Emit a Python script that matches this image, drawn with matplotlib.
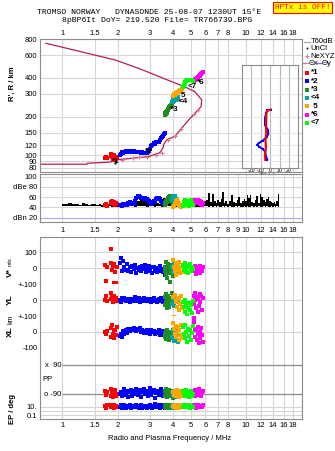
import matplotlib.pyplot as plt
from matplotlib.lines import Line2D
from matplotlib.ticker import NullLocator, NullFormatter

W, H = 335, 451
plt.rcParams['font.family'] = ['Liberation Sans', 'DejaVu Sans']
plt.rcParams['font.size'] = 5.5

# frequency scale shared by all panels
F_MIN, F_MAX = 0.756, 20.1
freq_ticks = [1, 1.5, 2, 3, 4, 5, 6, 7, 8, 10, 12, 14, 16, 18]
freq_labels = ['1', '1.5', '2', '3', '4', '5', '6', '7', '8', '10', '12', '14', '16', '18']
dbe_ticks = [1, 1.5, 2, 3, 4, 5, 6, 7, 8, 9, 10, 12, 14, 16, 18]
dbe_labels = ['1', '1.5', '2', '3', '4', '5', '6', '7', '8', '9', '10', '12', '14', '16', '18']
range_ticks = [80, 90, 100, 120, 150, 200, 300, 400, 600, 800]

title1 = 'TROMSO NORWAY   DYNASONDE 25-08-07 1230UT 15°E'
title2 = '8pBP6It DoY= 219.520 File= TR766739.BPG'

# electron density profile, plasma frequency (MHz) vs height (km)
prof_f = [0.815, 1.94, 2.65, 3.62, 4.66, 5.27, 5.74, 5.69, 5.27, 4.96, 4.47, 4.11, 3.70,
          3.55, 3.55, 3.40, 2.94, 2.39, 1.94, 1.86, 1.78, 1.37, 1.36, 0.756]
prof_h = [741, 550, 469, 392, 340, 312, 269, 239, 212, 194, 163, 141, 132,
          121, 116, 105, 98, 95, 92.3, 89.6, 88.5, 87, 85.5, 85.5]
nexyz_f = [2.11, 2.42, 2.62, 2.88, 3.24, 3.48, 3.78, 4.11, 4.43, 5.21, 5.50]
nexyz_h = [93, 96, 96.5, 98, 100, 105, 132, 141, 160, 210, 225]
uncl_f = [1.93, 1.96, 2.92, 2.97, 3.93, 4.3]
uncl_h = [88, 90, 109, 111, 236, 268]

# echo traces: freq, range, amplitude, V*, YL, XL, polarisation, EP
red_f = [1.70, 1.72, 1.74, 1.83, 1.85, 1.87, 1.89, 1.90, 1.92, 1.94, 1.96, 1.98]
red_r = [96, 98, 95, 99, 103, 97, 94, 100, 96, 93, 97, 95]
red_amp = [44, 46, 43, 48, 50, 52, 49, 51, 47, 45, 48, 46]
red_v = [20, -77, 8, 35, 119, -10, 15, -89, 25, -25, -89, 5]
red_yl = [5, 30, -5, 44, 10, 20, -8, 15, 25, 0, 12, -5]
red_xl = [0, -15, 5, 25, -30, 44, -10, 15, -40, 10, -20, 30]
red_pp = [-70, -95, -80, -60, -100, -85, -110, -75, -90, -65, -105, -88]
red_ep = [15, 6, 25, 10, 30, 8, 12, 5, 20, 9, 14, 7]

blue_f = [2.06, 2.09, 2.12, 2.15, 2.18, 2.21, 2.25, 2.29, 2.33, 2.37, 2.41, 2.45, 2.49,
          2.53, 2.57, 2.61, 2.65, 2.69, 2.73, 2.77, 2.81, 2.85, 2.89, 2.93, 2.97, 3.01,
          3.05, 3.09, 3.14, 3.19, 3.24, 3.29, 3.34, 3.39, 3.44, 3.49, 3.54, 3.58, 3.62]
blue_r = [101, 103, 106, 105, 107, 109, 108, 107, 109, 108, 107, 108, 106,
          107, 106, 107, 106, 105, 106, 104, 105, 104, 105, 107, 110, 112,
          118, 121, 124, 123, 126, 127, 128, 131, 136, 138, 141, 146, 150]
blue_amp = [44, 45, 43, 46, 44, 47, 45, 48, 50, 47, 49, 46, 52,
            58, 63, 62, 60, 58, 59, 57, 58, 56, 57, 55, 52, 50,
            47, 49, 52, 50, 57, 59, 58, 56, 52, 50, 48, 46, 47]
blue_v = [35, 62, -20, 45, 10, -8, 25, -15, 5, -22, 12, -5, 18,
          -28, 3, -12, 8, -18, 15, -6, 22, -25, 0, -10, 14, -20,
          6, -30, 10, -14, 2, -24, -8, 12, -18, -3, -26, -10, -42]
blue_yl = [5, -8, 12, 0, 15, -5, 8, 2, -10, 10, -3, 6, 18,
           -6, 4, 12, -9, 7, -2, 14, 0, -7, 9, 3, -5, 11,
           -8, 5, 16, -4, 2, -10, 8, -6, 12, 0, -9, 4, -7]
blue_xl = [-25, -10, -30, 5, -15, 10, -5, 18, 8, 20, 12, 22, 15,
           5, 18, 10, 23, 2, 14, -5, 8, 0, 12, -8, 5, -12,
           10, -3, 6, -15, 2, -8, 12, -20, 0, -10, 5, -18, -6]
blue_pp = [-90, -75, -105, -85, -60, -95, -70, -110, -80, -65, -100, -88, -72,
           -58, -96, -82, -68, -108, -78, -62, -92, -85, -70, -100, -75, -55,
           -95, -80, -65, -112, -84, -70, -98, -76, -60, -90, -105, -72, -85]
blue_ep = [8, 20, 5, 12, 30, 6, 15, 9, 25, 4, 11, 18, 7,
           22, 10, 5, 14, 28, 6, 12, 9, 19, 4, 16, 8, 24,
           11, 6, 13, 35, 7, 10, 20, 5, 15, 9, 26, 12, 6]

green_f = [3.62, 3.64, 3.66, 3.68, 3.70, 3.72, 3.74, 3.76, 3.79, 3.82, 3.85, 3.88, 3.91, 3.94, 3.97, 4.0]
green_r = [205, 212, 218, 210, 222, 215, 228, 224, 232, 236, 240, 238, 246, 250, 255, 258]
green_amp = [44, 48, 52, 46, 55, 50, 58, 53, 60, 56, 62, 58, 61, 55, 50, 47]
green_v = [10, -20, 41, -40, 0, -62, 25, -10, -30, 15, -5, -84, 20, -15, 5, -50]
green_yl = [20, -30, 40, -10, 5, -50, 30, -20, 10, -40, 0, 15, -25, 46, -5, 25]
green_xl = [-10, -30, 5, -45, -20, 10, -35, -5, -50, -15, -25, 0, -40, -10, -30, 12]
green_pp = [-70, -100, -80, -60, -110, -90, -75, -95, -65, -105, -85, -70, -100, -80, -90, -115]
green_ep = [10, 20, 6, 30, 12, 8, 15, 25, 5, 18, 10, 14, 7, 22, 11, 9]

teal_f = [3.96, 4.0, 4.04, 4.08, 4.12, 4.16, 4.2, 4.25]
teal_r = [262, 268, 265, 272, 276, 270, 280, 284]
teal_amp = [55, 60, 63, 58, 62, 57, 54, 52]
teal_v = [10, -25, 30, -5, 20, -31, 0, 15]
teal_yl = [-20, 10, -35, 22, -10, 0, -40, 5]
teal_xl = [-30, 5, -55, -15, -40, 12, -20, -60]
teal_pp = [-80, -100, -70, -95, -85, -110, -75, -90]
teal_ep = [12, 6, 20, 9, 15, 25, 8, 5]

orange_f = [4.02, 4.06, 4.1, 4.14, 4.18, 4.22, 4.26, 4.3, 4.34, 4.38, 4.42, 4.46]
orange_r = [290, 298, 294, 305, 300, 312, 308, 318, 315, 322, 310, 326]
orange_amp = [40, 43, 46, 50, 53, 55, 52, 48, 45, 42, 40, 44]
orange_v = [52, 10, -20, 30, -42, 0, 20, -10, 40, -30, 5, -25]
orange_yl = [20, -102, 33, -10, 0, -40, 15, -60, 10, -25, 25, -50]
orange_xl = [54, 20, -10, 40, -30, 0, 30, -50, 10, -20, 45, -40]
orange_pp = [-75, -95, -70, -100, -85, -65, -90, -110, -80, -95, -70, -100]
orange_ep = [15, 8, 25, 12, 6, 30, 10, 18, 5, 22, 9, 14]

mag_f = [5.18, 5.22, 5.26, 5.3, 5.35, 5.4, 5.45, 5.5, 5.55, 5.6, 5.65, 5.7, 5.75, 5.8]
mag_r = [380, 384, 390, 386, 395, 400, 396, 405, 410, 415, 420, 428, 435, 440]
mag_amp = [46, 50, 53, 55, 52, 48, 54, 55, 51, 47, 53, 50, 45, 48]
mag_v = [5, -20, 14, -10, -38, 0, 10, -25, -5, 12, -30, 3, -15, 8]
mag_yl = [30, -20, 48, 0, -50, 20, -71, 10, -35, 40, -10, 25, -60, 15]
mag_xl = [86, 64, 20, -30, 10, -50, 33, -10, -71, 0, -40, 25, -20, -60]
mag_pp = [-75, -90, -65, -100, -80, -70, -95, -85, -60, -90, -75, -105, -80, -70]
mag_ep = [12, 25, 8, 15, 6, 20, 10, 30, 9, 14, 7, 18, 11, 22]

lime_f = [4.56, 4.6, 4.64, 4.68, 4.72, 4.78, 4.84, 4.9, 4.96, 5.02, 5.08, 5.14]
lime_r = [342, 350, 360, 372, 380, 384, 382, 385, 383, 386, 384, 380]
lime_amp = [42, 50, 55, 48, 44, 52, 47, 43, 50, 55, 49, 44]
lime_v = [20, -10, 31, 0, -25, 15, -31, 5, 25, -15, 10, -5]
lime_yl = [-10, -40, 0, -70, -25, -92, -50, -15, -60, -30, -80, -5]
lime_xl = [30, -10, 44, -40, 0, -60, 20, -25, 10, -50, -5, 35]
lime_pp = [-70, -90, -80, -100, -65, -95, -75, -110, -85, -70, -100, -90]
lime_ep = [10, 20, 7, 15, 30, 9, 12, 25, 6, 18, 11, 8]

trace_tags = ['*1', '*2', '*3', '<4', ' 5', '*6', '<7']
tag_f = [1.86, 2.82, 3.91, 4.28, 4.43, 5.39, 4.82]
tag_h = [89.8, 108, 229, 264, 294, 365, 340]

# received amplitude envelope (dB)
amp_f = [1.0, 1.05, 1.1, 1.15, 1.2, 1.25, 1.3, 1.35, 1.4, 1.45, 1.5, 1.55, 1.6, 1.65, 1.7,
         1.8, 1.9, 2.0, 2.1, 2.2, 2.3, 2.4, 2.5, 2.6, 2.7, 2.8, 2.9, 3.0, 3.1, 3.2, 3.3, 3.4, 3.5, 3.6,
         3.8, 4.0, 4.2, 4.4, 4.6, 4.8, 5.0, 5.2, 5.4, 5.6, 5.8, 6.0,
         6.15, 6.3, 6.45, 6.6, 6.75, 6.9, 7.05, 7.2, 7.35, 7.5, 7.65, 7.8,
         8.0, 8.2, 8.4, 8.6, 8.8, 9.0, 9.2, 9.4, 9.6, 9.8, 10.0, 10.2, 10.4, 10.6, 10.8, 11.0,
         11.25, 11.5, 11.75, 12.0, 12.25, 12.5, 12.75, 13.0, 13.25, 13.5, 13.75, 14.0, 14.25,
         14.5, 14.75, 15.0, 15.2]
amp_hi = [47, 46, 48, 46, 47, 45, 48, 46, 45, 47, 46, 45, 46, 44, 45,
          46, 45, 44, 45, 46, 45, 47, 48, 52, 55, 53, 50, 47, 49, 46, 48, 47, 52, 58,
          64, 60, 50, 46, 44, 45, 44, 46, 45, 44, 47, 52,
          55, 69, 50, 66, 52, 48, 54, 50, 56, 70, 49, 52,
          47, 53, 64, 50, 49, 55, 61, 48, 53, 57, 52, 65, 58, 65, 50, 48,
          55, 62, 49, 66, 60, 54, 50, 56, 61, 52, 50, 48, 50,
          47, 52, 66, 46]
amp_lo = [43, 42, 43, 42, 43, 42, 42, 43, 42, 42, 43, 42, 42, 41, 42,
          42, 41, 41, 42, 41, 42, 42, 41, 42, 43, 42, 41, 42, 42, 41, 42, 42, 41, 42,
          42, 41, 40, 40, 41, 41, 40, 41, 41, 40, 41, 42,
          42, 41, 42, 41, 42, 41, 42, 40, 41, 42, 41, 42,
          41, 42, 40, 41, 42, 41, 42, 41, 40, 42, 41, 42, 41, 40, 42, 41,
          42, 41, 42, 40, 41, 42, 41, 42, 40, 41, 42, 41, 42,
          41, 42, 40, 44]

# echo arrival angles (deg) against height
tilt_x_h = [226, 221, 212, 190, 168, 150, 132, 115, 100, 92]
tilt_x = [0, -3.5, -4, -4.2, -4.4, -4, -5, -4.5, -5.5, -5.2]
tilt_y_h = [226, 223, 212, 194, 172, 158, 147, 138, 130, 124, 121, 116, 112, 107, 98, 92.5]
tilt_y = [0.8, -3, -4.4, -5.5, -5.5, -2.6, -1.9, -3.7, -7.9, -12.4, -13.5, -11.4, -7.9, -5.5, -4.4, -3]

GRID = '#d6d6d6'
SPINE = '#8c8c8c'
PROF = '#b4204e'
PINK = '#e06f98'
groups = [
    (red_f, red_r, red_amp, red_v, red_yl, red_xl, red_pp, red_ep, '#ff0000'),
    (blue_f, blue_r, blue_amp, blue_v, blue_yl, blue_xl, blue_pp, blue_ep, '#0000ff'),
    (green_f, green_r, green_amp, green_v, green_yl, green_xl, green_pp, green_ep, '#1e8c1e'),
    (teal_f, teal_r, teal_amp, teal_v, teal_yl, teal_xl, teal_pp, teal_ep, '#00a5a5'),
    (orange_f, orange_r, orange_amp, orange_v, orange_yl, orange_xl, orange_pp, orange_ep, '#ffa500'),
    (mag_f, mag_r, mag_amp, mag_v, mag_yl, mag_xl, mag_pp, mag_ep, '#ff00ff'),
    (lime_f, lime_r, lime_amp, lime_v, lime_yl, lime_xl, lime_pp, lime_ep, '#00ff00'),
]


def frame(x0, y0, x1, y1):
    # pixel box (origin top left) -> figure fraction
    return [x0 / W, 1 - y1 / H, (x1 - x0) / W, (y1 - y0) / H]


def fx(x):
    return x / W


def fy(y):
    return 1 - y / H


def freq_axis(ax, ticks, labels, side=None, pad=2):
    ax.set_xscale('log')
    ax.set_xlim(F_MIN, F_MAX)
    ax.set_xticks(ticks)
    ax.xaxis.set_minor_locator(NullLocator())
    ax.xaxis.set_minor_formatter(NullFormatter())
    ax.set_xticklabels(labels if side else [])
    if side == 'top':
        ax.xaxis.tick_top()
    ax.tick_params(axis='x', length=0, labelsize=5.5, pad=pad)
    ax.tick_params(axis='y', length=0, labelsize=5.5, pad=2)
    ax.grid(True, color=GRID, lw=0.8)
    ax.set_axisbelow(True)
    for s in ax.spines.values():
        s.set_color(SPINE)
        s.set_linewidth(0.8)


fig = plt.figure(figsize=(W / 100, H / 100), dpi=100)

fig.text(fx(149), fy(12.3), title1, ha='center', va='center', family='Liberation Mono', fontsize=5.9)
fig.text(fx(157.5), fy(20), title2, ha='center', va='center', family='Liberation Mono', fontsize=5.9)
fig.text(fx(302.5), fy(7.5), 'HPTx is OFF!', ha='center', va='center', family='Liberation Mono',
         fontsize=5.5, color='red',
         bbox=dict(facecolor='yellow', edgecolor='red', linewidth=0.8, pad=1.2))

# --- virtual range panel ---
ax1 = fig.add_axes(frame(40, 39, 301.7, 172))
freq_axis(ax1, freq_ticks, freq_labels, 'top', pad=1.5)
ax1.set_yscale('log')
ax1.set_ylim(74.4, 800)
ax1.set_yticks(range_ticks)
ax1.set_yticklabels([str(t) for t in range_ticks])
ax1.yaxis.set_minor_locator(NullLocator())
ax1.yaxis.set_minor_formatter(NullFormatter())
ax1.plot(prof_f, prof_h, color=PROF, lw=0.9)
ax1.plot(nexyz_f, nexyz_h, '+', color=PINK, ms=3, mew=0.8)
for g in groups:
    ax1.plot(g[0], g[1], 's', color=g[8], ms=2.9, mew=0)
ax1.plot(uncl_f, uncl_h, 's', color='k', ms=1.4, mew=0)
for t, f, h in zip(trace_tags, tag_f, tag_h):
    ax1.text(f, h, t.strip(), ha='left', va='center', fontsize=5.8, fontweight='bold', color='k')
fig.text(fx(12), fy(84), "R', R / km", rotation=90, ha='center', va='center', fontsize=5.5,
         fontweight='bold')

# tilt inset
axi = fig.add_axes(frame(242, 65, 298.3, 167.7))
axi.set_facecolor('white')
axi.set_xlim(-30, 30)
axi.set_yscale('log')
axi.set_ylim(80.2, 503)
axi.set_xticks([-20, -10, 0, 10, 20])
axi.set_xticklabels(['-20', '-10', '0', '10', '20'])
axi.set_yticks([t for t in range_ticks if t < 500])
axi.yaxis.set_minor_locator(NullLocator())
axi.yaxis.set_minor_formatter(NullFormatter())
axi.set_yticklabels([])
axi.tick_params(length=0, labelsize=3.8, pad=0.5)
axi.grid(True, axis='x', color='#b4b4c4', lw=0.8)
axi.grid(True, axis='y', color='#e2e2e2', lw=0.6)
axi.set_axisbelow(True)
for s in axi.spines.values():
    s.set_color(SPINE)
    s.set_linewidth(0.8)
axi.set_xlabel('Tilt / deg', fontsize=3.8, labelpad=0)
axi.plot(tilt_y, tilt_y_h, '-s', color='#0000ff', lw=1.4, ms=1.8, mew=0)
axi.plot(tilt_x, tilt_x_h, '-', color='#ff0000', lw=1.6)

# legend at right
lx = 306.7
fig.add_artist(Line2D([fx(303.5), fx(309.5)], [fy(41.7)] * 2, color='#aaaaaa', lw=0.9))
fig.text(fx(310.5), fy(41.7), 'T60dB', va='center', fontsize=5.5)
fig.add_artist(Line2D([fx(lx)], [fy(48.3)], marker='s', color='k', ms=1.2, mew=0))
fig.text(fx(310.5), fy(48.3), 'UnCl', va='center', fontsize=5.5)
fig.add_artist(Line2D([fx(lx)], [fy(56)], marker='+', color=PINK, ms=3.5, mew=0.8))
fig.text(fx(310.5), fy(56), 'NeXYZ', va='center', fontsize=5.5)
fig.add_artist(Line2D([fx(302.5), fx(308)], [fy(63.3)] * 2, color=PINK, lw=0.9))
fig.text(fx(308.3), fy(63.3), 'Θx', va='center', fontsize=5.5)
fig.add_artist(Line2D([fx(316.5), fx(321.5)], [fy(63.3)] * 2, color='#7070e0', lw=0.9))
fig.text(fx(322), fy(63.3), 'Θy', va='center', fontsize=5.5)
for i, g in enumerate(groups):
    yy = 73 + i * 8.3
    fig.add_artist(Line2D([fx(lx)], [fy(yy)], marker='s', color=g[8], ms=2.6, mew=0))
    fig.text(fx(311), fy(yy), trace_tags[i], va='center', fontsize=5.8, fontweight='bold')

# --- amplitude panel ---
ax2 = fig.add_axes(frame(40, 174, 301.7, 222))
freq_axis(ax2, dbe_ticks, dbe_labels, 'bottom', pad=3.5)
ax2.set_ylim(11.6, 105.3)
ax2.set_yticks([100, 80, 60, 40, 20])
ax2.set_yticklabels(['100', 'dBe 80', '60', '40', 'dBn 20'])
ax2.get_ygridlines()[4].set_color('#aaaaee')
ax2.fill_between(amp_f, amp_lo, amp_hi, step='mid', color='k', lw=0)
for g in groups:
    ax2.plot(g[0], g[2], 's', color=g[8], ms=2.6, mew=0)

# --- Doppler / position / polarisation panels ---
axv = fig.add_axes(frame(40, 237, 301.7, 284.3))
axyl = fig.add_axes(frame(40, 284.3, 301.7, 316.3))
axxl = fig.add_axes(frame(40, 316.3, 301.7, 348))
axpp = fig.add_axes(frame(40, 348, 301.7, 401))
axep = fig.add_axes(frame(40, 401, 301.7, 419))
stack = [axv, axyl, axxl, axpp, axep]
for a in stack:
    freq_axis(a, freq_ticks, freq_labels, 'bottom' if a is axep else None, pad=2)
for a in stack[1:]:
    a.spines['top'].set_visible(False)
for a in stack[:-1]:
    a.spines['bottom'].set_visible(False)

axv.set_ylim(-100, 195.6)
axv.set_yticks([100, 0, -100])
axv.set_yticklabels(['100', '0', '+-100'])
axyl.set_ylim(-100, 100)
axyl.set_yticks([0, -100])
axyl.set_yticklabels(['0', '+-100'])
axxl.set_ylim(-100, 98)
axxl.set_yticks([0, -100])
axxl.set_yticklabels(['0', '-100'])

axpp.set_ylim(-133.4, 195.5)
axpp.set_yticks([])
axpp.grid(False, axis='y')
axpp.hlines([90, -90], 1, F_MAX, color='#8c8c8c', lw=0.9)
axpp.text(0.985, 90, 'x  90', ha='right', va='center', fontsize=5.5)
axpp.text(0.985, -90, 'o -90', ha='right', va='center', fontsize=5.5)
axpp.text(0.782, 3, 'PP', ha='left', va='center', fontsize=5.5)

axep.set_yscale('log')
axep.set_ylim(0.0109, 236)
axep.set_yticks([10, 1, 0.1])
axep.set_yticklabels(['10.', '', '0.1'])
axep.yaxis.set_minor_locator(NullLocator())
axep.yaxis.set_minor_formatter(NullFormatter())

for g in groups:
    for a, vals in zip(stack, g[3:8]):
        a.plot(g[0], vals, 's', color=g[8], ms=2.2, mew=0)

fig.text(fx(10), fy(273), 'V*', rotation=90, ha='center', va='center', fontsize=6, fontweight='bold')
fig.text(fx(10.5), fy(261.5), 'm/s', rotation=90, ha='center', va='center', fontsize=4)
fig.text(fx(10), fy(300), 'YL', rotation=90, ha='center', va='center', fontsize=6, fontweight='bold')
fig.text(fx(11), fy(319), 'km', rotation=90, ha='center', va='center', fontsize=5)
fig.text(fx(10), fy(331.5), 'XL', rotation=90, ha='center', va='center', fontsize=6, fontweight='bold')
fig.text(fx(13), fy(409), 'EP / deg', rotation=90, ha='center', va='center', fontsize=5.5,
         fontweight='bold')
fig.text(fx(170), fy(439), 'Radio and Plasma Frequency / MHz', ha='center', va='center', fontsize=5.5)

fig.savefig('out.png', dpi=100)
